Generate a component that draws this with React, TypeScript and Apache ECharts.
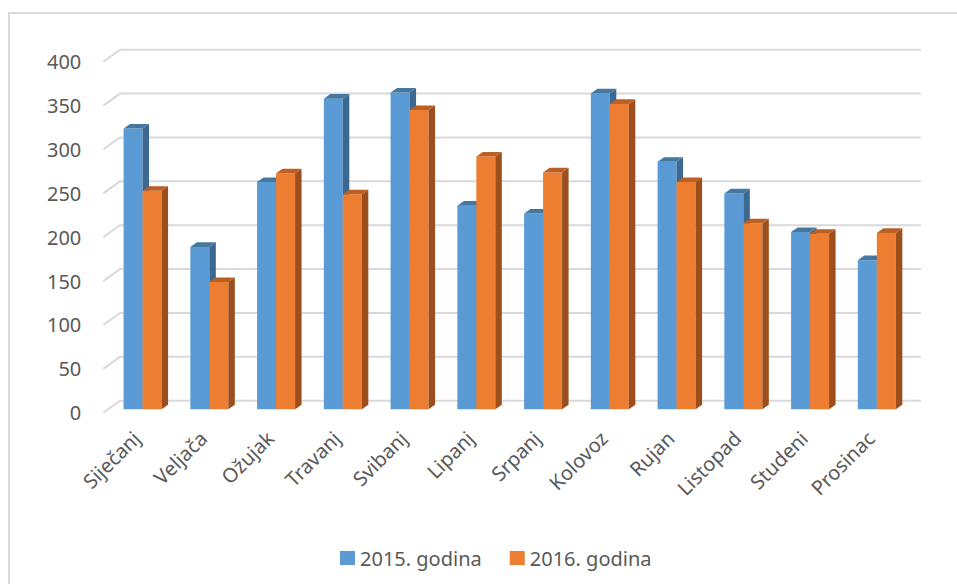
import React, { useEffect, useRef } from "react";
import * as echarts from "echarts";

const months = ["Siječanj", "Veljača", "Ožujak", "Travanj", "Svibanj", "Lipanj", "Srpanj", "Kolovoz", "Rujan", "Listopad", "Studeni", "Prosinac"];
const values2015 = [320, 185, 259, 354, 361, 232, 223, 360, 282, 246, 202, 170];
const values2016 = [249, 145, 269, 245, 341, 288, 270, 348, 259, 212, 200, 201];
const yTicks = [0, 50, 100, 150, 200, 250, 300, 350, 400];
const seriesNames = ["2015. godina", "2016. godina"];

const FONT = "'Noto Sans', 'Open Sans', sans-serif";
const TEXT = "#595959";
const GRID_COLOR = "#d9d9d9";

// 3D look constants (pixels)
const SHIFT_X = 5.9;
const SHIFT_Y = -3.4;
const BAR_W = 19;
const DX = 6.5;
const DY = 4.6;
const WALL_DX = 16.7;
const WALL_DY = -12;

const palettes = [
  { front: "#5b9bd5", side: "#3c6892", top: "#45779f" },
  { front: "#ed7d31", side: "#9c4f1c", top: "#bb5f22" },
];

function makeBarRenderer(idx: number) {
  const pal = palettes[idx];
  return (params: any, api: any) => {
    const cat = api.value(0);
    const val = api.value(1);
    const base = api.coord([cat, 0]);
    const top = api.coord([cat, val]);
    const cx = base[0] + SHIFT_X;
    const x0 = idx === 0 ? cx - BAR_W : cx;
    const x1 = x0 + BAR_W;
    const yb = base[1] + SHIFT_Y;
    const yt = top[1] + SHIFT_Y;
    return {
      type: "group",
      children: [
        {
          type: "polygon",
          shape: { points: [[x0, yb], [x1, yb], [x1, yt], [x0, yt]] },
          style: { fill: pal.front },
        },
        {
          type: "polygon",
          shape: { points: [[x1, yb], [x1 + DX, yb - DY], [x1 + DX, yt - DY], [x1, yt]] },
          style: { fill: pal.side },
        },
        {
          type: "polygon",
          shape: { points: [[x0, yt], [x1, yt], [x1 + DX, yt - DY], [x0 + DX, yt - DY]] },
          style: { fill: pal.top },
        },
      ],
    };
  };
}

function renderGridLine(params: any, api: any) {
  const t = api.value(1);
  const p = api.coord([0, t]);
  const cs = params.coordSys;
  const y = p[1];
  return {
    type: "polyline",
    shape: {
      points: [
        [cs.x, y],
        [cs.x + WALL_DX, y + WALL_DY],
        [cs.x + cs.width + WALL_DX, y + WALL_DY],
      ],
    },
    style: { stroke: GRID_COLOR, lineWidth: 2, fill: "none" },
    silent: true,
  };
}

export default function App() {
  const ref = useRef<HTMLDivElement>(null);

  useEffect(() => {
    if (!ref.current) return;
    const chart = echarts.init(ref.current, undefined, { renderer: "svg" });
    chart.setOption({
      animation: false,
      backgroundColor: "#ffffff",
      textStyle: { fontFamily: FONT },
      graphic: [
        {
          type: "rect",
          shape: { x: 9, y: 13, width: 1000, height: 700 },
          style: { fill: "none", stroke: "#d9d9d9", lineWidth: 2 },
          silent: true,
          z: -10,
        },
      ],
      grid: { left: 103.3, top: 61.7, width: 801, height: 351 },
      legend: {
        data: seriesNames,
        left: 335,
        top: 543,
        icon: "rect",
        itemWidth: 15,
        itemHeight: 14,
        itemGap: 28,
        textStyle: { color: TEXT, fontSize: 20, fontFamily: FONT },
      },
      xAxis: {
        type: "category",
        data: months,
        axisLine: { show: false },
        axisTick: { show: false },
        axisLabel: {
          interval: 0,
          rotate: 45,
          margin: 22,
          color: TEXT,
          fontSize: 20,
          fontFamily: FONT,
        },
      },
      yAxis: {
        type: "value",
        min: 0,
        max: 400,
        interval: 50,
        axisLine: { show: false },
        axisTick: { show: false },
        splitLine: { show: false },
        axisLabel: { color: TEXT, fontSize: 20, fontFamily: FONT, margin: 22 },
      },
      series: [
        {
          type: "custom",
          name: "grid",
          silent: true,
          z: 1,
          renderItem: renderGridLine,
          data: yTicks.map((t) => [0, t]),
          encode: { x: 0, y: 1 },
        },
        {
          type: "custom",
          name: seriesNames[0],
          z: 2,
          itemStyle: { color: palettes[0].front },
          renderItem: makeBarRenderer(0),
          data: values2015.map((v, i) => [i, v]),
          encode: { x: 0, y: 1 },
        },
        {
          type: "custom",
          name: seriesNames[1],
          z: 3,
          itemStyle: { color: palettes[1].front },
          renderItem: makeBarRenderer(1),
          data: values2016.map((v, i) => [i, v]),
          encode: { x: 0, y: 1 },
        },
      ],
    });
    return () => chart.dispose();
  }, []);

  return (
    <div
      ref={ref}
      style={{ position: "absolute", left: 0, top: 0, width: 957, height: 584 }}
    />
  );
}
